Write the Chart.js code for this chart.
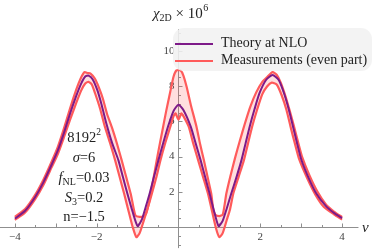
<!DOCTYPE html>
<html>
<head>
<meta charset="utf-8">
<script src="https://cdn.jsdelivr.net/npm/chart.js@4.4.0/dist/chart.umd.min.js"></script>
<style>
  html, body { margin: 0; padding: 0; background: #fff; }
</style>
</head>
<body>
<canvas id="chiChart" width="374" height="250"></canvas>
<script>
// theory at NLO
const theoryNu = [-4.0, -3.75, -3.5, -3.3, -3.1, -2.95, -2.8, -2.65, -2.5, -2.38, -2.28, -2.2, -2.1, -1.98, -1.88, -1.76, -1.62, -1.47, -1.36, -1.25, -1.12, -1.0, -0.9, -0.8, -0.7, -0.6, -0.49, -0.37, -0.25, -0.12, 0,
  0.12, 0.3, 0.42, 0.54, 0.65, 0.76, 0.87, 0.98, 1.08, 1.18, 1.29, 1.42, 1.54, 1.64, 1.74, 1.86, 1.98, 2.14, 2.3, 2.45, 2.58, 2.7, 2.8, 2.9, 3.0, 3.17, 3.37, 3.6, 3.8, 4.0];
const theoryChi = [0.48, 0.92, 1.72, 2.55, 3.55, 4.35, 5.35, 6.45, 7.45, 8.15, 8.55, 8.6, 8.4, 7.75, 6.95, 5.85, 4.75, 3.8, 2.85, 1.9, 0.85, 0.05, 0.4, 1.15, 1.95, 2.85, 3.8, 4.8, 5.75, 6.6, 6.95,
  6.65, 5.7, 4.75, 3.8, 2.85, 1.9, 0.9, 0.05, 0.35, 1.05, 1.9, 2.85, 3.8, 4.75, 5.7, 6.7, 7.6, 8.35, 8.64, 8.35, 7.6, 6.65, 5.7, 4.75, 3.85, 2.85, 1.9, 1.2, 0.8, 0.5];

// measurements, upper edge of band
const upperNu = [-4.0, -3.75, -3.5, -3.3, -3.1, -2.95, -2.8, -2.65, -2.5, -2.4, -2.3, -2.22, -2.15, -2.05, -1.95, -1.85, -1.75, -1.62, -1.5, -1.39, -1.28, -1.17, -1.1, -1.05, -0.95, -0.86, -0.8, -0.75, -0.7, -0.64, -0.57, -0.5, -0.4, -0.3, -0.2, -0.12, -0.05,
  0.05, 0.12, 0.2, 0.3, 0.44, 0.53, 0.62, 0.71, 0.8, 0.85, 0.9, 1.0, 1.08, 1.12, 1.17, 1.27, 1.38, 1.5, 1.62, 1.75, 1.9, 2.05, 2.18, 2.3, 2.4, 2.5, 2.62, 2.72, 2.82, 2.92, 3.02, 3.2, 3.4, 3.6, 3.8, 4.0];
const upperChi = [0.58, 1.02, 1.84, 2.7, 3.72, 4.55, 5.6, 6.75, 7.8, 8.4, 8.8, 8.75, 8.72, 8.45, 7.95, 7.3, 6.45, 5.6, 4.7, 3.8, 2.85, 1.9, 1.1, 0.65, 0.58, 0.6, 0.72, 1.1, 1.6, 2.4, 3.3, 4.2, 5.4, 6.6, 7.7, 8.55, 8.9,
  8.9, 8.6, 7.95, 6.95, 5.7, 4.7, 3.8, 2.85, 1.9, 1.0, 0.7, 0.62, 0.7, 1.15, 1.9, 2.9, 3.9, 4.9, 5.85, 6.8, 7.65, 8.25, 8.55, 8.8, 8.65, 8.2, 7.4, 6.6, 5.75, 4.85, 4.0, 2.95, 2.0, 1.3, 0.88, 0.56];

// measurements, lower edge of band
const lowerNu = [-4.0, -3.75, -3.5, -3.3, -3.1, -2.95, -2.8, -2.65, -2.5, -2.38, -2.28, -2.2, -2.12, -2.04, -1.92, -1.8, -1.67, -1.55, -1.44, -1.33, -1.22, -1.12, -1.03, -0.95, -0.85, -0.75, -0.65, -0.55, -0.44, -0.32, -0.2, -0.12, -0.07, 0,
  0.07, 0.12, 0.25, 0.36, 0.48, 0.6, 0.72, 0.82, 0.92, 1.0, 1.08, 1.18, 1.26, 1.34, 1.47, 1.6, 1.7, 1.8, 1.92, 2.05, 2.17, 2.28, 2.4, 2.52, 2.64, 2.75, 2.85, 2.95, 3.15, 3.35, 3.55, 3.8, 4.0];
const lowerChi = [0.4, 0.82, 1.6, 2.4, 3.4, 4.15, 5.1, 6.1, 7.05, 7.75, 8.15, 8.25, 8.1, 7.6, 6.75, 5.7, 4.75, 3.8, 2.85, 1.9, 0.9, 0.0, -0.58, -0.35, 0.35, 1.1, 1.9, 2.75, 3.8, 4.8, 5.7, 6.3, 6.45, 6.1,
  6.45, 6.3, 5.7, 4.75, 3.8, 2.85, 1.9, 0.9, -0.1, -0.58, -0.35, 0.4, 1.0, 1.9, 2.85, 3.8, 4.75, 5.7, 6.65, 7.55, 8.0, 8.2, 8.1, 7.5, 6.65, 5.6, 4.7, 3.85, 2.75, 1.82, 1.15, 0.72, 0.42];

const xTickLabels = [-4, -2, 2, 4];
const yTickLabels = [2, 4, 6, 8, 10];
const seriesNames = ['Theory at NLO', 'Measurements (even part)'];

const purple = '#7d1a88';
const red = '#ff5b5b';
const serif = '"Liberation Serif", "DejaVu Serif", serif';

function pts(xs, ys) {
    return xs.map((v, i) => ({ x: v, y: ys[i] }));
}

function minus(v) {
    return v < 0 ? '\u2212' + Math.abs(v) : String(v);
}

// axes through the origin, mathematica style
const axesPlugin = {
    id: 'axesPlugin',
    beforeDatasetsDraw(chart) {
        const { ctx, scales: { x, y } } = chart;
        const x0 = Math.round(x.getPixelForValue(0)) + 0.5;
        const y0 = Math.round(y.getPixelForValue(0)) + 0.5;
        ctx.save();
        ctx.strokeStyle = '#8f8f8f';
        ctx.lineWidth = 1;
        ctx.beginPath();
        ctx.moveTo(0, y0);
        ctx.lineTo(x.getPixelForValue(4.4), y0);
        ctx.moveTo(x0, y.getPixelForValue(11.25));
        ctx.lineTo(x0, y.getPixelForValue(-1.2));
        // x ticks
        for (let v = -4; v <= 4; v += 0.5) {
            if (v === 0) continue;
            const px = Math.round(x.getPixelForValue(v)) + 0.5;
            const len = Number.isInteger(v) ? 4 : 2.5;
            ctx.moveTo(px, y0);
            ctx.lineTo(px, y0 - len);
        }
        // y ticks
        for (let v = -1; v <= 11; v += 0.5) {
            if (v === 0) continue;
            const py = Math.round(y.getPixelForValue(v)) + 0.5;
            const len = Number.isInteger(v) && v % 2 === 0 ? 4 : 2.5;
            ctx.moveTo(x0, py);
            ctx.lineTo(x0 + len, py);
        }
        ctx.stroke();

        ctx.fillStyle = '#444';
        ctx.font = '11px ' + serif;
        ctx.textAlign = 'center';
        ctx.textBaseline = 'top';
        xTickLabels.forEach(v => {
            ctx.fillText(minus(v), x.getPixelForValue(v), y0 + 4);
        });
        ctx.textAlign = 'right';
        ctx.textBaseline = 'middle';
        yTickLabels.forEach(v => {
            ctx.fillText(String(v), x0 - 4, y.getPixelForValue(v));
        });
        ctx.restore();
    }
};

// legend, labels and the parameter block drawn over the curves
const overlayPlugin = {
    id: 'overlayPlugin',
    afterDatasetsDraw(chart) {
        const { ctx } = chart;
        ctx.save();

        // legend box
        const bx = 173, by = 28, bw = 199, bh = 43, r = 11;
        ctx.fillStyle = 'rgba(241,241,241,0.88)';
        ctx.beginPath();
        ctx.roundRect(bx, by, bw, bh, r);
        ctx.fill();

        ctx.lineWidth = 2;
        ctx.strokeStyle = purple;
        ctx.beginPath();
        ctx.moveTo(175, 44);
        ctx.lineTo(213, 44);
        ctx.stroke();
        ctx.strokeStyle = red;
        ctx.beginPath();
        ctx.moveTo(175, 61);
        ctx.lineTo(213, 61);
        ctx.stroke();

        ctx.fillStyle = '#222';
        ctx.font = '14px ' + serif;
        ctx.textAlign = 'left';
        ctx.textBaseline = 'middle';
        ctx.fillText(seriesNames[0], 221, 43);
        ctx.fillText(seriesNames[1], 221, 60);

        // y title: chi_2D x 10^6
        ctx.textBaseline = 'alphabetic';
        let tx = 153;
        const ty = 18;
        ctx.font = 'italic 15px ' + serif;
        ctx.fillText('\u03c7', tx, ty);
        tx += ctx.measureText('\u03c7').width;
        ctx.font = '10px ' + serif;
        ctx.fillText('2D', tx, ty + 3);
        tx += ctx.measureText('2D').width;
        ctx.font = '15px ' + serif;
        ctx.fillText(' \u00d7 10', tx, ty);
        tx += ctx.measureText(' \u00d7 10').width;
        ctx.font = '10px ' + serif;
        ctx.fillText('6', tx + 0.5, ty - 7);

        // x title
        ctx.font = 'italic 15px ' + serif;
        ctx.fillText('\u03bd', 362, 232);

        // parameter block, centred
        const cx = 84;
        const rows = [
            [['8192', '14.5px', 0], ['2', '9.5px', -7]],
            [['\u03c3', 'italic 14.5px', 0], ['=6', '14.5px', 0]],
            [['f', 'italic 14.5px', 0], ['NL', '10px', 3], ['=0.03', '14.5px', 0]],
            [['S', 'italic 14.5px', 0], ['3', '10px', 3], ['=0.2', '14.5px', 0]],
            [['n=\u22121.5', '14.5px', 0]]
        ];
        const baselines = [142, 161.5, 182, 202, 221];
        rows.forEach((row, i) => {
            let w = 0;
            row.forEach(p => { ctx.font = p[1] + ' ' + serif; w += ctx.measureText(p[0]).width; });
            let px = cx - w / 2;
            row.forEach(p => {
                ctx.font = p[1] + ' ' + serif;
                ctx.fillText(p[0], px, baselines[i] + p[2]);
                px += ctx.measureText(p[0]).width;
            });
        });
        ctx.restore();
    }
};

const ctx = document.getElementById('chiChart').getContext('2d');
const chiChart = new Chart(ctx, {
    type: 'line',
    plugins: [axesPlugin, overlayPlugin],
    data: {
        datasets: [
            {
                label: seriesNames[0],
                data: pts(theoryNu, theoryChi),
                borderColor: purple,
                borderWidth: 2,
                pointRadius: 0,
                fill: false,
                tension: 0.2
            },
            {
                label: seriesNames[1],
                data: pts(upperNu, upperChi),
                borderColor: red,
                borderWidth: 2.2,
                pointRadius: 0,
                fill: '+1',
                backgroundColor: 'rgba(255,80,80,0.18)',
                tension: 0.2
            },
            {
                label: 'lower',
                data: pts(lowerNu, lowerChi),
                borderColor: red,
                borderWidth: 2.2,
                pointRadius: 0,
                fill: false,
                tension: 0.2
            }
        ]
    },
    options: {
        responsive: false,
        animation: false,
        devicePixelRatio: 1,
        layout: { padding: 0 },
        plugins: {
            legend: { display: false },
            tooltip: { enabled: false }
        },
        scales: {
            x: {
                type: 'linear',
                display: false,
                min: -4.364,
                max: 4.78
            },
            y: {
                display: false,
                min: -1.307,
                max: 12.898
            }
        }
    }
});
</script>
</body>
</html>
